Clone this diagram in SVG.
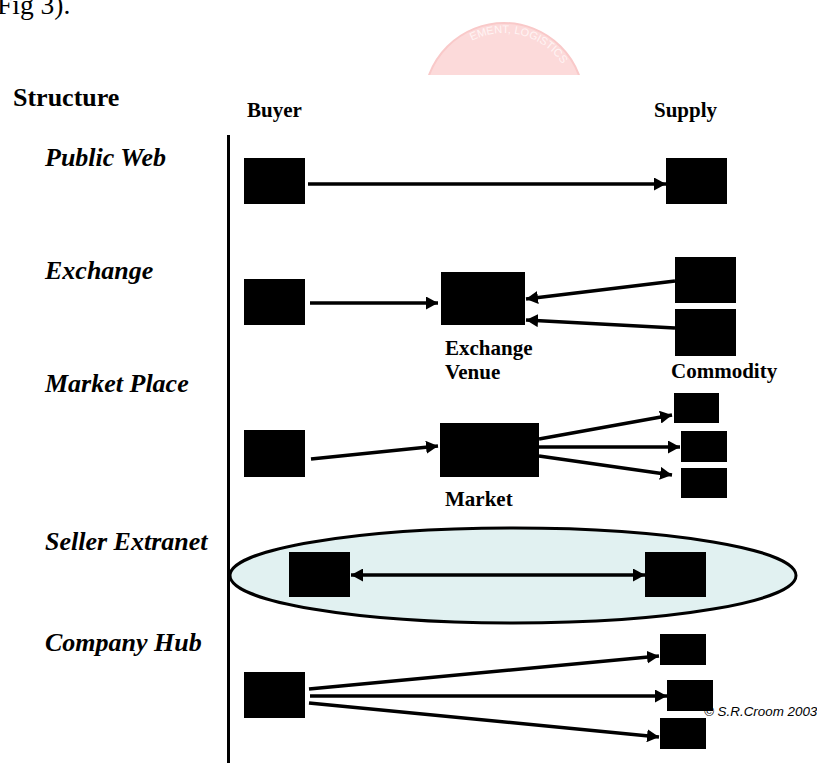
<svg xmlns="http://www.w3.org/2000/svg" width="817" height="763" viewBox="0 0 817 763">
  <defs>
    <style>
      .box { fill: #000; }
      .conn { stroke: #000; stroke-width: 3.5; fill: none; marker-end: url(#head); }
      .head-title { font-family: "Liberation Serif", serif; font-weight: bold; font-size: 26px; fill: #000; }
      .col { font-family: "Liberation Serif", serif; font-weight: bold; font-size: 21px; fill: #000; }
      .row { font-family: "Liberation Serif", serif; font-weight: bold; font-style: italic; font-size: 26px; fill: #000; }
      .lbl { font-family: "Liberation Serif", serif; font-weight: bold; font-size: 21px; fill: #000; }
      .copy { font-family: "Liberation Sans", Arial, sans-serif; font-style: italic; font-size: 13.4px; fill: #000; }
      .body { font-family: "Liberation Serif", serif; font-size: 27.5px; fill: #000; }
      .wm { font-family: "Liberation Sans", Arial, sans-serif; font-size: 11px; fill: #fff4f4; }
    </style>
    <marker id="head" markerUnits="userSpaceOnUse" markerWidth="14" markerHeight="13" refX="12" refY="6.5" orient="auto">
      <path d="M0,0 L12,6.5 L0,13 z" fill="#000"/>
    </marker>
    <marker id="tail" markerUnits="userSpaceOnUse" markerWidth="14" markerHeight="13" refX="0" refY="6.5" orient="auto">
      <path d="M12,0 L0,6.5 L12,13 z" fill="#000"/>
    </marker>
    <clipPath id="wmclip"><rect x="0" y="0" width="817" height="75"/></clipPath>
    <path id="wmarc" d="M434,103 A70,70 0 0 1 574,103"/>
  </defs>

  <rect width="817" height="763" fill="#fff"/>

  <!-- running text above the figure -->
  <text class="body" x="-3" y="14">Fig 3).</text>

  <!-- faint seal behind the heading -->
  <g clip-path="url(#wmclip)">
    <circle cx="504" cy="103" r="80" fill="#fcdada" stroke="#f9c9c9" stroke-width="2"/>
    <text class="wm"><textPath href="#wmarc" startOffset="58%" text-anchor="middle">EMENT, LOGISTICS</textPath></text>
  </g>

  <!-- headings -->
  <text class="head-title" x="13" y="106">Structure</text>
  <text class="col" x="247" y="117">Buyer</text>
  <text class="col" x="654" y="117">Supply</text>

  <!-- row labels -->
  <text class="row" x="45" y="166">Public Web</text>
  <text class="row" x="45" y="279">Exchange</text>
  <text class="row" x="45" y="392">Market Place</text>
  <text class="row" x="45" y="550">Seller Extranet</text>
  <text class="row" x="45" y="651">Company Hub</text>

  <!-- buyer axis -->
  <line x1="228.5" y1="135" x2="228.5" y2="763" stroke="#000" stroke-width="3"/>

  <!-- seller extranet enclosure -->
  <g id="extranet">
    <ellipse cx="513" cy="575.5" rx="283" ry="47.5" fill="#e1f1f1" stroke="#000" stroke-width="3"/>
  </g>

  <!-- nodes -->
  <g id="pw-buyer"><rect class="box" x="244" y="158" width="61" height="46"/></g>
  <g id="pw-supply"><rect class="box" x="666" y="158" width="61" height="46"/></g>

  <g id="ex-buyer"><rect class="box" x="244" y="279" width="61" height="46"/></g>
  <g id="ex-venue">
    <rect class="box" x="441" y="272" width="84" height="53"/>
    <text class="lbl" x="445" y="355">Exchange</text>
    <text class="lbl" x="445" y="379">Venue</text>
  </g>
  <g id="ex-supply1"><rect class="box" x="675" y="257" width="61" height="46"/></g>
  <g id="ex-supply2">
    <rect class="box" x="675" y="309" width="61" height="47"/>
    <text class="lbl" x="671" y="378">Commodity</text>
  </g>

  <g id="mp-buyer"><rect class="box" x="244" y="430" width="61" height="47"/></g>
  <g id="mp-market">
    <rect class="box" x="440" y="423" width="99" height="54"/>
    <text class="lbl" x="445" y="506">Market</text>
  </g>
  <g id="mp-supply1"><rect class="box" x="674" y="393" width="45" height="30"/></g>
  <g id="mp-supply2"><rect class="box" x="681" y="431" width="46" height="31"/></g>
  <g id="mp-supply3"><rect class="box" x="681" y="468" width="46" height="30"/></g>

  <g id="se-buyer"><rect class="box" x="289" y="552" width="61" height="45"/></g>
  <g id="se-supply"><rect class="box" x="645" y="552" width="61" height="45"/></g>

  <g id="ch-buyer"><rect class="box" x="244" y="672" width="61" height="46"/></g>
  <g id="ch-supply1"><rect class="box" x="660" y="634" width="46" height="31"/></g>
  <g id="ch-supply2"><rect class="box" x="667" y="680" width="46" height="31"/></g>
  <g id="ch-supply3"><rect class="box" x="660" y="718" width="46" height="31"/></g>

  <!-- connectors -->
  <g id="connectors">
    <line class="conn" x1="308" y1="184" x2="666" y2="184"/>

    <line class="conn" x1="310" y1="303" x2="438" y2="303"/>
    <line class="conn" x1="675" y1="281" x2="526" y2="299"/>
    <line class="conn" x1="675" y1="328" x2="526" y2="320"/>

    <line class="conn" x1="311" y1="459" x2="438" y2="446"/>
    <line class="conn" x1="539" y1="439" x2="672" y2="415"/>
    <line class="conn" x1="539" y1="447" x2="680" y2="447"/>
    <line class="conn" x1="539" y1="456" x2="672" y2="475"/>

    <line class="conn" x1="351" y1="575" x2="645" y2="575" marker-start="url(#tail)"/>

    <line class="conn" x1="309" y1="689" x2="659" y2="656"/>
    <line class="conn" x1="310" y1="696" x2="667" y2="696"/>
    <line class="conn" x1="309" y1="703" x2="659" y2="737"/>
  </g>

  <text class="copy" x="704" y="716">© S.R.Croom 2003</text>
</svg>
